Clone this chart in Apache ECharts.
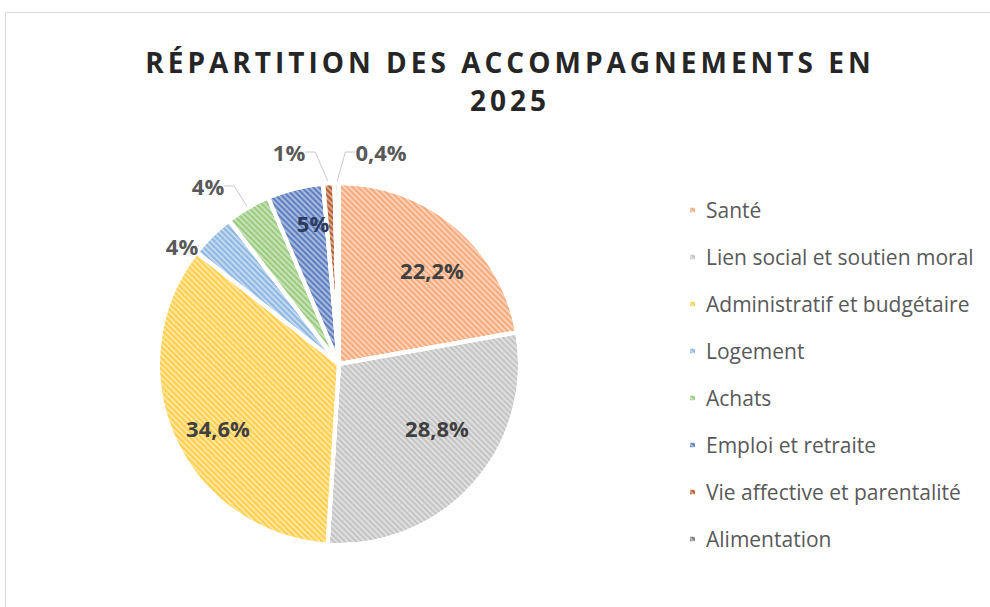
<!DOCTYPE html>
<html>
<head>
<meta charset="utf-8">
<script src="https://cdn.jsdelivr.net/npm/echarts@6/dist/echarts.min.js"></script>
<style>
  html, body { margin: 0; padding: 0; background: #fff; }
  #chart { width: 990px; height: 607px; }
  /* titre espacé comme dans Excel */
  #chart text[style*="28px"] { letter-spacing: 4px; }
</style>
</head>
<body>
<div id="chart"></div>
<script>
const categories = [
  'Santé',
  'Lien social et soutien moral',
  'Administratif et budgétaire',
  'Logement',
  'Achats',
  'Emploi et retraite',
  'Vie affective et parentalité',
  'Alimentation',
]
const values = [22.2, 28.8, 34.6, 4, 4, 5, 1, 0.4]
const colors = ['#f5ab7c', '#c4c4c4', '#ffd04e', '#8fb9e2', '#9acb7e', '#5f7fc0', '#b85f30', '#7d7d7d']
// étiquettes à l'intérieur ou à l'extérieur
const insideLabel = [true, true, true, false, false, true, false, false]
// où Excel a posé les étiquettes
const labelPos = [[432, 270], [437, 428], [218, 428], [182, 246], [208, 186], [313, 223], [289, 152], [381, 152]]

const chart = echarts.init(document.getElementById('chart'), null, { renderer: 'svg' })

// format français : 22,2%
function fmt(v) {
  return String(v).replace('.', ',') + '%'
}

const hatch = {
  symbol: 'rect',
  symbolSize: 1,
  dashArrayX: [[1, 0]],
  dashArrayY: [2, 2],
  rotation: Math.PI / 4,
  color: 'rgba(255,255,255,0.45)',
}

const pieData = categories.map((name, i) => ({
  name,
  value: values[i],
  itemStyle: { color: colors[i], decal: hatch },
  label: insideLabel[i]
    ? { position: 'inside', color: i === 5 ? '#2b3a5e' : '#404040' }
    : { position: 'outside', color: '#595959' },
}))

chart.setOption({
  animation: false,
  title: {
    text: 'RÉPARTITION DES ACCOMPAGNEMENTS EN\n2025',
    left: 505,
    top: 38,
    textAlign: 'center',
    textStyle: {
      fontFamily: 'Open Sans',
      fontWeight: 'bold',
      fontSize: 28,
      lineHeight: 38,
      color: '#262626',
    },
  },
  legend: {
    orient: 'vertical',
    left: 683,
    top: 193,
    icon: 'rect',
    itemWidth: 7,
    itemHeight: 7,
    itemGap: 23,
    textStyle: {
      fontFamily: 'Open Sans',
      fontSize: 21,
      lineHeight: 24,
      color: '#595959',
      padding: [0, 0, 0, 5],
    },
    data: categories,
  },
  graphic: [
    {
      type: 'rect',
      shape: { x: 5.5, y: 12.5, width: 1000, height: 700 },
      style: { fill: 'none', stroke: '#d9d9d9', lineWidth: 1 },
      silent: true,
    },
  ],
  series: [
    {
      type: 'pie',
      center: [339, 364],
      radius: [0, 181],
      startAngle: 90,
      clockwise: true,
      avoidLabelOverlap: false,
      itemStyle: { borderColor: '#fff', borderWidth: 4 },
      label: {
        formatter: (p) => fmt(p.value),
        fontFamily: 'Open Sans',
        fontWeight: 'bold',
        fontSize: 22,
      },
      labelLine: {
        length: 12,
        length2: 10,
        lineStyle: { color: '#c8c8c8', width: 1 },
      },
      labelLayout: function (p) {
        const pos = labelPos[p.dataIndex]
        return { x: pos[0], y: pos[1], align: 'center', verticalAlign: 'middle' }
      },
      data: pieData,
    },
  ],
})
</script>
</body>
</html>
